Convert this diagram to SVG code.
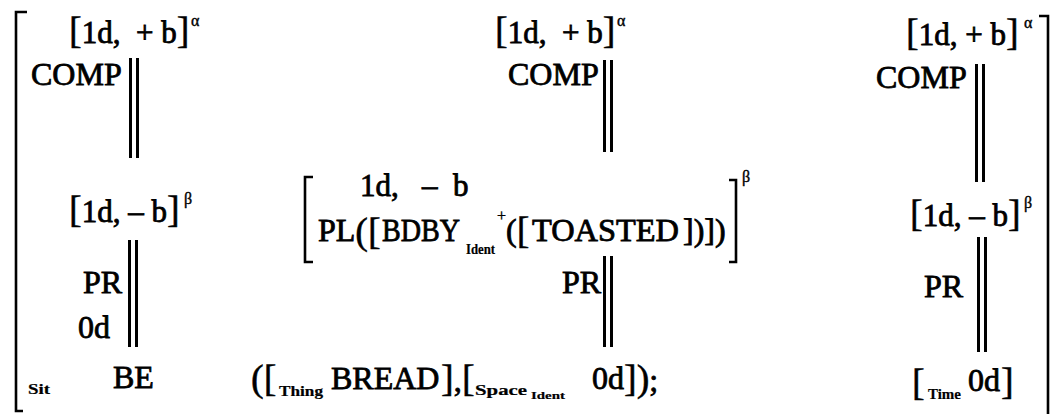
<svg xmlns="http://www.w3.org/2000/svg" width="1056" height="415" viewBox="0 0 1056 415">
<style>
.t{font-family:"Liberation Serif","Times New Roman",serif;font-size:32px;fill:#000;stroke:#000;stroke-width:0.8}
.e{font-size:31px}
.bk{font-size:38px;stroke-width:0.5}
.sup{font-size:16px;stroke-width:0.4}
.sub{font-size:14px;font-weight:bold;stroke-width:0.2}
.br{fill:none;stroke:#000;stroke-width:2.6}
.bar{fill:#000}
</style>
<rect width="1056" height="415" fill="#fff"/>
<g id="outer-brackets">
<path class="br" d="M27,12 H16 V411 H23"/>
<path class="br" d="M1039,16 H1048 V414"/>
</g>
<g id="left-column">
<g id="left-top"><text class="t" x="69" y="43" xml:space="preserve"><tspan class="bk">[</tspan><tspan class="e">1d,  + b</tspan><tspan class="bk">]</tspan></text><text class="t sup" x="191" y="26">α</text></g>
<g id="left-comp"><text class="t" x="31" y="85">COMP</text></g>
<g id="left-mid"><text class="t" x="69" y="222" xml:space="preserve"><tspan class="bk">[</tspan><tspan class="e">1d, – b</tspan><tspan class="bk">]</tspan></text><text class="t sup" x="184" y="204">β</text></g>
<g id="left-pr"><text class="t" x="83" y="293">PR</text></g>
<g id="left-0d"><text class="t" x="78" y="338">0d</text></g>
<g id="left-be"><text class="t sub" x="28" y="394" textLength="22" lengthAdjust="spacingAndGlyphs">Sit</text><text class="t" x="113" y="388">BE</text></g>
</g>
<g id="middle-column">
<g id="mid-top"><text class="t" x="495" y="43" xml:space="preserve"><tspan class="bk">[</tspan><tspan class="e">1d,  + b</tspan><tspan class="bk">]</tspan></text><text class="t sup" x="617" y="26">α</text></g>
<g id="mid-comp"><text class="t" x="508" y="85">COMP</text></g>
<g id="mid-place">
<path class="br" d="M313,177 H305 V262 H313"/>
<text class="t e" x="360" y="196" xml:space="preserve">1d,   –  b</text>
<text class="t" x="318" y="241">PL<tspan class="bk" dy="3">([</tspan></text>
<text class="t" x="382" y="241" textLength="78" lengthAdjust="spacingAndGlyphs">BDBY</text>
<text class="t sub" x="466" y="254" textLength="29" lengthAdjust="spacingAndGlyphs">Ident</text>
<text class="t sup" x="497" y="221">+</text>
<text class="t" x="506" y="241">(<tspan class="bk" dy="2">[</tspan></text>
<text class="t" x="532" y="241" textLength="147" lengthAdjust="spacingAndGlyphs">TOASTED</text>
<text class="t" x="683" y="241">])])</text>
<path class="br" d="M729,180 H736 V262 H729"/>
<text class="t sup" x="742" y="182">β</text>
</g>
<g id="mid-pr"><text class="t" x="562" y="293">PR</text></g>
<g id="mid-args">
<text class="t bk" x="251" y="391">([</text>
<text class="t sub" x="279" y="396" textLength="44" lengthAdjust="spacingAndGlyphs">Thing</text>
<text class="t" x="331" y="389">BREAD</text>
<text class="t" x="441" y="391"><tspan class="bk">]</tspan><tspan>,</tspan></text>
<text class="t bk" x="462" y="391">[</text>
<text class="t sub" x="475" y="395" textLength="52" lengthAdjust="spacingAndGlyphs">Space</text>
<text class="t sub" x="531" y="399" style="font-size:11px" textLength="34" lengthAdjust="spacingAndGlyphs">Ident</text>
<text class="t" x="592" y="389">0d</text>
<text class="t" x="624" y="391"><tspan class="bk">])</tspan><tspan>;</tspan></text>
</g>
</g>
<g id="right-column">
<g id="right-top"><text class="t" x="906" y="45" xml:space="preserve"><tspan class="bk">[</tspan><tspan class="e">1d, + b</tspan><tspan class="bk">]</tspan></text><text class="t sup" x="1024" y="28">α</text></g>
<g id="right-comp"><text class="t" x="876" y="88">COMP</text></g>
<g id="right-mid"><text class="t" x="910" y="226" xml:space="preserve"><tspan class="bk">[</tspan><tspan class="e">1d, – b</tspan><tspan class="bk">]</tspan></text><text class="t sup" x="1024" y="208">β</text></g>
<g id="right-pr"><text class="t" x="924" y="297">PR</text></g>
<g id="right-time"><text class="t bk" x="912" y="395">[</text><text class="t sub" x="928" y="399" textLength="33" lengthAdjust="spacingAndGlyphs">Time</text><text class="t" x="968" y="391">0d</text><text class="t bk" x="1001" y="394">]</text></g>
</g>
<g id="connectors">
<rect class="bar" x="129" y="58" width="3" height="100"/><rect class="bar" x="136" y="58" width="3" height="100"/>
<rect class="bar" x="128" y="240" width="3" height="107"/><rect class="bar" x="135" y="240" width="3" height="107"/>
<rect class="bar" x="603" y="60" width="3" height="92"/><rect class="bar" x="610" y="60" width="3" height="92"/>
<rect class="bar" x="603" y="256" width="3" height="91"/><rect class="bar" x="610" y="256" width="3" height="91"/>
<rect class="bar" x="975" y="64" width="3" height="118"/><rect class="bar" x="982" y="64" width="3" height="118"/>
<rect class="bar" x="977" y="237" width="3" height="115"/><rect class="bar" x="984" y="237" width="3" height="115"/>
</g>
</svg>
